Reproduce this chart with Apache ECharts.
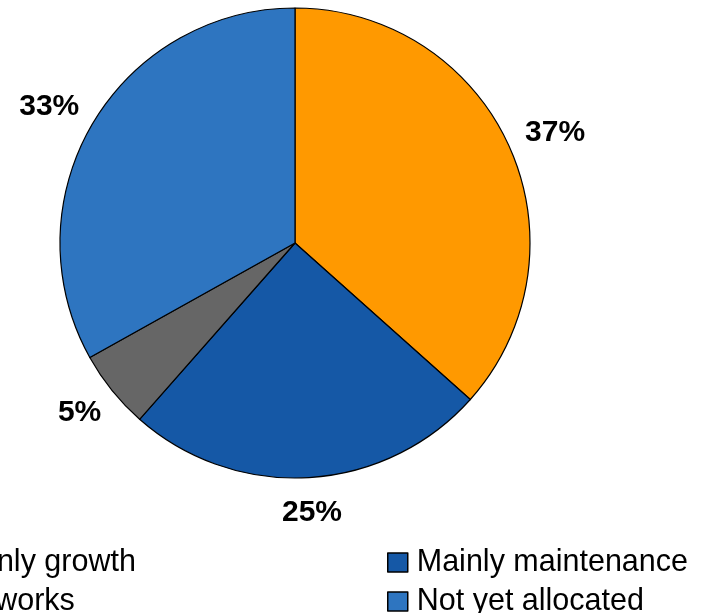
<!DOCTYPE html>
<html>
<head>
<meta charset="utf-8">
<script src="https://cdn.jsdelivr.net/npm/echarts@6/dist/echarts.min.js"></script>
<style>html,body{margin:0;padding:0;background:#fff}#c{width:711px;height:613px}</style>
</head>
<body>
<div id="c"></div>
<script>
var categories = ['Mainly growth', 'Mainly maintenance', 'No works', 'Not yet allocated'];
var values = [36.6, 24.9, 5.4, 33.1];
var colors = ['#FF9900', '#1558A6', '#666666', '#2E75C0'];
var legendLeftCol = ['Mainly growth', 'No works'];
var legendRightCol = ['Mainly maintenance', 'Not yet allocated'];

var CX = 295, CY = 243, R = 235, LABEL_R = 255;
var total = values.reduce(function (a, b) { return a + b; }, 0);
function midAngle(i) {
  var s = 0;
  for (var k = 0; k < i; k++) s += values[k];
  return (s + values[i] / 2) / total * 2 * Math.PI;
}

var chart = echarts.init(document.getElementById('c'), null, {renderer: 'canvas'});
var font = "'Liberation Sans', Arial, sans-serif";
var legendCommon = {
  orient: 'vertical', top: 547, height: 120, width: 400, padding: 0,
  itemWidth: 20, itemHeight: 19, itemGap: 8, icon: 'rect',
  itemStyle: {borderColor: '#000', borderWidth: 1.5},
  textStyle: {fontFamily: font, fontSize: 30.5, color: '#000', lineHeight: 20, padding: [0, 0, 0, 4]}
};
chart.setOption({
  animation: false,
  color: colors,
  legend: [
    Object.assign({}, legendCommon, {left: -82, data: legendLeftCol}),
    Object.assign({}, legendCommon, {left: 387, data: legendRightCol})
  ],
  series: [{
    type: 'pie',
    center: [CX, CY],
    radius: [0, R],
    startAngle: 90,
    clockwise: true,
    percentPrecision: 0,
    data: categories.map(function (c, i) { return {name: c, value: values[i]}; }),
    itemStyle: {borderColor: '#000', borderWidth: 1.2},
    label: {
      show: true, position: 'outside', formatter: '{d}%', overflow: 'none',
      fontFamily: font, fontSize: 30, fontWeight: 'bold', color: '#000'
    },
    labelLine: {show: false},
    labelLayout: function (p) {
      var a = midAngle(p.dataIndex);
      var dx = Math.sin(a), dy = -Math.cos(a);
      var w = p.labelRect.width, h = p.labelRect.height;
      return {
        x: CX + dx * LABEL_R + dx * w / 2,
        y: CY + dy * LABEL_R + dy * h / 2,
        align: 'center', verticalAlign: 'middle'
      };
    },
    emphasis: {disabled: true}
  }]
});
</script>
</body>
</html>
